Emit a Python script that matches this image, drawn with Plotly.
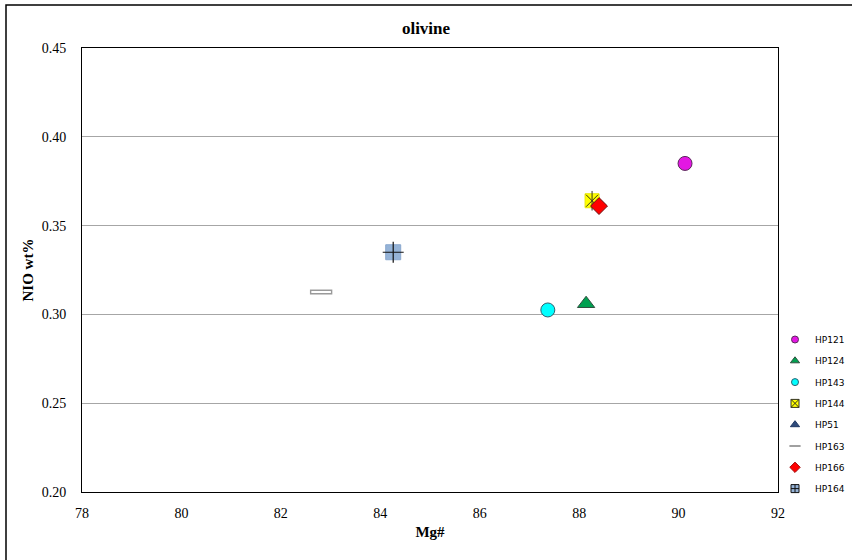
import plotly.graph_objects as go

# Data
series_names = ["HP121", "HP124", "HP143", "HP144", "HP51", "HP163", "HP166", "HP164"]
mg_number = {
    "HP121": [90.13],
    "HP124": [88.14],
    "HP143": [87.37],
    "HP144": [88.26],
    "HP51": [None],
    "HP163": [82.81],
    "HP166": [88.40],
    "HP164": [84.26],
}
nio_wt = {
    "HP121": [0.385],
    "HP124": [0.306],
    "HP143": [0.3025],
    "HP144": [0.364],
    "HP51": [None],
    "HP163": [0.3126],
    "HP166": [0.361],
    "HP164": [0.335],
}
y_ticks = [0.20, 0.25, 0.30, 0.35, 0.40, 0.45]
x_ticks = [78, 80, 82, 84, 86, 88, 90, 92]

# marker layers drawn on the plot (several layers build the composite Excel-like markers)
plot_layers = {
    "HP121": [dict(symbol="circle", size=14, color="#E317E3", line=dict(color="#5A2A5A", width=1))],
    "HP124": [dict(symbol="triangle-up", size=15, color="#00A050", line=dict(color="#2F4F3F", width=1))],
    "HP143": [dict(symbol="circle", size=14, color="#00FFFF", line=dict(color="#2F5F6F", width=1))],
    "HP144": [dict(symbol="square", size=14, color="#FFFF00", line=dict(color="#E8E800", width=1)),
              dict(symbol="x-thin-open", size=12, color="#333320", line=dict(color="#333320", width=1)),
              dict(symbol="line-ns-open", size=14, color="#333320", line=dict(color="#333320", width=1))],
    "HP51": [dict(symbol="triangle-up", size=12, color="#1F3864", line=dict(color="#1F3864", width=1))],
    "HP163": [dict(symbol="line-ew-open", size=16, color="#9A9A9A", line=dict(color="#9A9A9A", width=5)),
              dict(symbol="line-ew-open", size=14, color="white", line=dict(color="white", width=2))],
    "HP166": [dict(symbol="diamond", size=13, color="#FF0000", line=dict(color="#6A1010", width=1))],
    "HP164": [dict(symbol="square", size=15, color="#95B3D7", line=dict(color="#8AA8CF", width=1)),
              dict(symbol="cross-thin-open", size=15, color="#111111", line=dict(color="#111111", width=1.2))],
}

# small markers shown in the legend
legend_markers = {
    "HP121": dict(symbol="circle", size=7, color="#E317E3", line=dict(color="#5A2A5A", width=1)),
    "HP124": dict(symbol="triangle-up", size=8, color="#00A050", line=dict(color="#2F4F3F", width=1)),
    "HP143": dict(symbol="circle", size=7, color="#00FFFF", line=dict(color="#2F5F6F", width=1)),
    "HP144": dict(symbol="square-x", size=8, color="#FFFF00", line=dict(color="#333320", width=1)),
    "HP51": dict(symbol="triangle-up", size=8, color="#2E4A7A", line=dict(color="#1F3864", width=1)),
    "HP163": dict(symbol="line-ew-open", size=8, color="#808080", line=dict(color="#808080", width=1.5)),
    "HP166": dict(symbol="diamond", size=8, color="#FF0000", line=dict(color="#A01010", width=1)),
    "HP164": dict(symbol="square-cross", size=8, color="#95B3D7", line=dict(color="#111111", width=1)),
}

fig = go.Figure()
for name in series_names:
    for st in plot_layers[name]:
        fig.add_trace(go.Scatter(
            x=mg_number[name], y=nio_wt[name], mode="markers", name=name,
            legendgroup=name, showlegend=False,
            marker=dict(symbol=st["symbol"], size=st["size"], color=st["color"], line=st["line"]),
        ))
for name in series_names:
    st = legend_markers[name]
    fig.add_trace(go.Scatter(
        x=[None], y=[None], mode="markers", name=name, legendgroup=name, showlegend=True,
        marker=dict(symbol=st["symbol"], size=st["size"], color=st["color"], line=st["line"]),
    ))

serif = "Liberation Serif"

fig.update_layout(
    width=852, height=560,
    margin=dict(l=82, r=74, t=48, b=68, autoexpand=False),
    paper_bgcolor="white", plot_bgcolor="white",
    title=dict(text="<b>olivine</b>", x=0.5, xref="container", y=1 - 28 / 560, yref="container",
               yanchor="middle", xanchor="center", font=dict(family=serif, size=17, color="black")),
    xaxis=dict(range=[78, 92], tickvals=x_ticks, ticktext=[str(v) for v in x_ticks],
               showgrid=False, zeroline=False, showline=True, linecolor="black", linewidth=1, mirror=True,
               ticks="", ticklabelstandoff=8,
               tickfont=dict(family=serif, size=14, color="black"),
               title=dict(text="<b>Mg#</b>", font=dict(family=serif, size=15, color="black"), standoff=6)),
    yaxis=dict(range=[0.20, 0.45], tickvals=y_ticks, ticktext=[f"{v:.2f}" for v in y_ticks],
               showgrid=True, gridcolor="#A6A6A6", gridwidth=1, zeroline=False,
               showline=True, linecolor="black", linewidth=1, mirror=True,
               ticks="", ticklabelstandoff=12,
               tickfont=dict(family=serif, size=14, color="black"),
               title=dict(text="<b>NIO wt%</b>", font=dict(family=serif, size=15, color="black"), standoff=4)),
    legend=dict(x=(775 - 82) / 696, xanchor="left", y=(492 - 414.5) / 444, yanchor="middle",
                font=dict(family="DejaVu Sans", size=9, color="black"),
                traceorder="grouped", tracegroupgap=2.3, itemwidth=30, bgcolor="rgba(0,0,0,0)"),
    showlegend=True,
    shapes=[dict(type="rect", xref="paper", yref="paper",
                 x0=(6 - 82) / 696, x1=(900 - 82) / 696,
                 y0=(492 - 600) / 444, y1=(492 - 5) / 444,
                 line=dict(color="black", width=1.5), fillcolor="rgba(0,0,0,0)", layer="below")],
)

fig.write_html("out.html")
